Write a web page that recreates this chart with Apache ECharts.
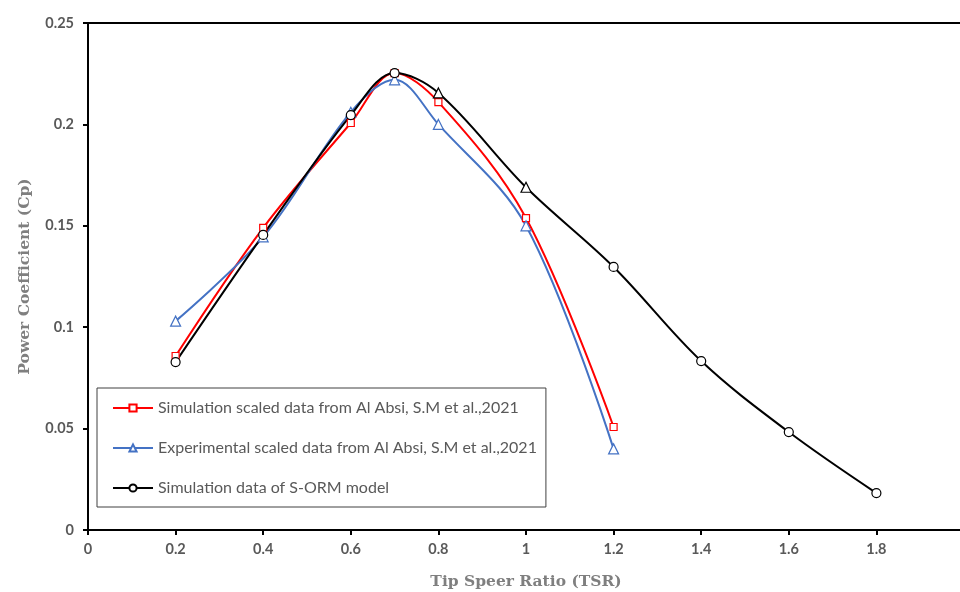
<!DOCTYPE html>
<html><head><meta charset="utf-8">
<script src="https://cdn.jsdelivr.net/npm/echarts@6/dist/echarts.min.js"></script>
<style>html,body{margin:0;padding:0;background:#fff}#c{width:960px;height:592px}</style>
</head><body><div id="c"></div>
<script>
const xSim = [0.2, 0.4, 0.6, 0.7, 0.8, 1.0, 1.2];
const ySimAlAbsi = [0.0858, 0.149, 0.2007, 0.2253, 0.211, 0.1538, 0.0508];
const xExp = [0.2, 0.4, 0.6, 0.7, 0.8, 1.0, 1.2];
const yExpAlAbsi = [0.103, 0.1445, 0.206, 0.222, 0.2, 0.150, 0.040];
const xSorm = [0.2, 0.4, 0.6, 0.7, 0.8, 1.0, 1.2, 1.4, 1.6, 1.8];
const ySorm = [0.0828, 0.1455, 0.2046, 0.2253, 0.2155, 0.169, 0.1297, 0.0833, 0.0483, 0.0182];
const sormSymbols = ['circle','circle','circle','circle','triangle','triangle','circle','circle','circle','circle'];
const seriesNames = [
  'Simulation scaled data from Al Absi, S.M et al.,2021',
  'Experimental scaled data from Al Absi, S.M et al.,2021',
  'Simulation data of S-ORM model'
];
const xTitle = 'Tip Speer Ratio (TSR)';
const yTitle = 'Power Coefficient (Cp)';

const pair = (xs, ys) => xs.map((x, i) => [x, ys[i]]);
const chart = echarts.init(document.getElementById('c'), null, {renderer: 'canvas'});
const labelStyle = {color: '#595959', fontFamily: 'Lato', fontWeight: 'bold', fontSize: 14.5};
chart.setOption({
  animation: false,
  grid: {left: 88, top: 23, width: 876, bottom: 62, show: true, borderColor: '#000', borderWidth: 2, containLabel: false, outerBoundsMode: 'none'},
  xAxis: {
    type: 'value', min: 0, max: 2, interval: 0.2,
    name: xTitle, nameLocation: 'middle', nameGap: 44,
    nameTextStyle: {color: '#7f7f7f', fontFamily: 'DejaVu Serif', fontWeight: 'bold', fontSize: 15.5},
    axisLine: {show: true, lineStyle: {color: '#000', width: 2}},
    axisTick: {show: true, inside: false, length: 5, lineStyle: {color: '#000', width: 2}},
    axisLabel: Object.assign({margin: 12, showMaxLabel: true}, labelStyle),
    splitLine: {show: false}
  },
  yAxis: {
    type: 'value', min: 0, max: 0.25, interval: 0.05,
    name: yTitle, nameLocation: 'middle', nameGap: 55,
    nameTextStyle: {color: '#7f7f7f', fontFamily: 'DejaVu Serif', fontWeight: 'bold', fontSize: 15.5},
    axisLine: {show: true, lineStyle: {color: '#000', width: 2}},
    axisTick: {show: true, inside: false, length: 5, lineStyle: {color: '#000', width: 2}},
    axisLabel: Object.assign({margin: 14}, labelStyle),
    splitLine: {show: false}
  },
  legend: {
    orient: 'vertical', left: 97, top: 388,
    borderColor: '#404040', borderWidth: 1,
    padding: [12, 9, 11, 15],
    itemWidth: 40, itemHeight: 9, itemGap: 24,
    textStyle: {color: '#595959', fontFamily: 'Lato', fontSize: 16},
    data: seriesNames
  },
  series: [
    {
      name: seriesNames[0], type: 'line', data: pair(xSim, ySimAlAbsi), smooth: 0.35,
      symbol: 'rect', symbolSize: 7,
      lineStyle: {color: '#ff0000', width: 2},
      itemStyle: {color: '#fff', borderColor: '#ff0000', borderWidth: 1.2}
    },
    {
      name: seriesNames[1], type: 'line', data: pair(xExp, yExpAlAbsi), smooth: 0.35,
      symbol: 'triangle', symbolSize: 10,
      lineStyle: {color: '#4472c4', width: 2},
      itemStyle: {color: '#fff', borderColor: '#4472c4', borderWidth: 1.2}
    },
    {
      name: seriesNames[2], type: 'line', smooth: 0.35,
      data: xSorm.map((x, i) => ({value: [x, ySorm[i]], symbol: sormSymbols[i], symbolSize: sormSymbols[i] === 'triangle' ? 10 : 9})),
      symbol: 'circle', symbolSize: 9,
      lineStyle: {color: '#000', width: 2},
      itemStyle: {color: '#fff', borderColor: '#000', borderWidth: 1.2},
      z: 3
    }
  ]
});
</script></body></html>
